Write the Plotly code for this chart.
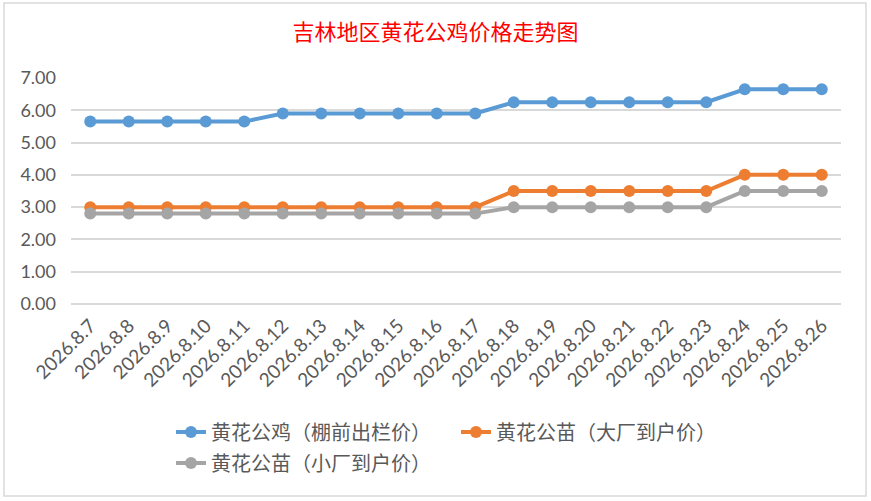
import plotly.graph_objects as go

# dates on the x axis
dates = ['2026.8.7', '2026.8.8', '2026.8.9', '2026.8.10', '2026.8.11',
         '2026.8.12', '2026.8.13', '2026.8.14', '2026.8.15', '2026.8.16',
         '2026.8.17', '2026.8.18', '2026.8.19', '2026.8.20', '2026.8.21',
         '2026.8.22', '2026.8.23', '2026.8.24', '2026.8.25', '2026.8.26']

# prices
rooster = [5.65, 5.65, 5.65, 5.65, 5.65,
           5.9, 5.9, 5.9, 5.9, 5.9, 5.9,
           6.25, 6.25, 6.25, 6.25, 6.25, 6.25,
           6.65, 6.65, 6.65]
chick_big = [3.0] * 11 + [3.5] * 6 + [4.0] * 3
chick_small = [2.8] * 11 + [3.0] * 6 + [3.5] * 3

names = ['黄花公鸡（棚前出栏价）', '黄花公苗（大厂到户价）', '黄花公苗（小厂到户价）']
colors = ['#5B9BD5', '#ED7D31', '#A5A5A5']

W, H = 871, 501
ml, mr, mt, mb = 71, 30, 78, 197
pw = W - ml - mr
ph = H - mt - mb

def px_x(p):
    return (p - ml) / pw

def px_y(p):
    return (H - mb - p) / ph

fig = go.Figure()
series = [rooster, chick_big, chick_small]
legends = ['legend', 'legend', 'legend2']
for vals, nm, col, lg in zip(series, names, colors, legends):
    fig.add_trace(go.Scatter(x=dates, y=vals, name=nm, mode='lines+markers',
                             line=dict(color=col, width=4),
                             marker=dict(color=col, size=12),
                             legend=lg))

leg_font = dict(family='Noto Sans CJK SC', size=20, color='#595959')
fig.update_layout(
    width=W, height=H,
    margin=dict(l=ml, r=mr, t=mt, b=mb),
    paper_bgcolor='white', plot_bgcolor='white',
    title=dict(text='吉林地区黄花公鸡价格走势图', x=0.5, xanchor='center',
               y=1 - 32 / H, yanchor='middle',
               font=dict(family='Noto Sans CJK SC', size=22, color='#FF0000')),
    legend=dict(orientation='h', x=px_x(171), xanchor='left',
                y=px_y(432), yanchor='middle', entrywidth=240,
                font=leg_font, bgcolor='rgba(0,0,0,0)'),
    legend2=dict(orientation='h', x=px_x(171), xanchor='left',
                 y=px_y(463), yanchor='middle',
                 font=leg_font, bgcolor='rgba(0,0,0,0)'),
    showlegend=True,
    shapes=[dict(type='rect', xref='paper', yref='paper',
                 x0=px_x(4), x1=px_x(866), y0=px_y(496), y1=px_y(3),
                 line=dict(color='#D9D9D9', width=1.5), layer='below')],
)
fig.update_xaxes(type='category', range=[-0.5, len(dates) - 0.5],
                 tickangle=-45, showgrid=False, showline=False, zeroline=False,
                 ticklabelstandoff=6,
                 tickfont=dict(family='Lato', size=19, color='#595959'))
fig.update_yaxes(range=[0, 7], dtick=1, tickformat='.2f',
                 showgrid=True, gridcolor='#D9D9D9', gridwidth=1.5,
                 zeroline=True, zerolinecolor='#D9D9D9', zerolinewidth=1.5,
                 showline=False, ticklabelstandoff=14,
                 tickfont=dict(family='Lato', size=18, color='#595959'))

# drop the page's default body margin so the figure sits at the window corner
fig.write_html("out.html", config={'displayModeBar': False},
               post_script="document.body.style.margin='0';")
